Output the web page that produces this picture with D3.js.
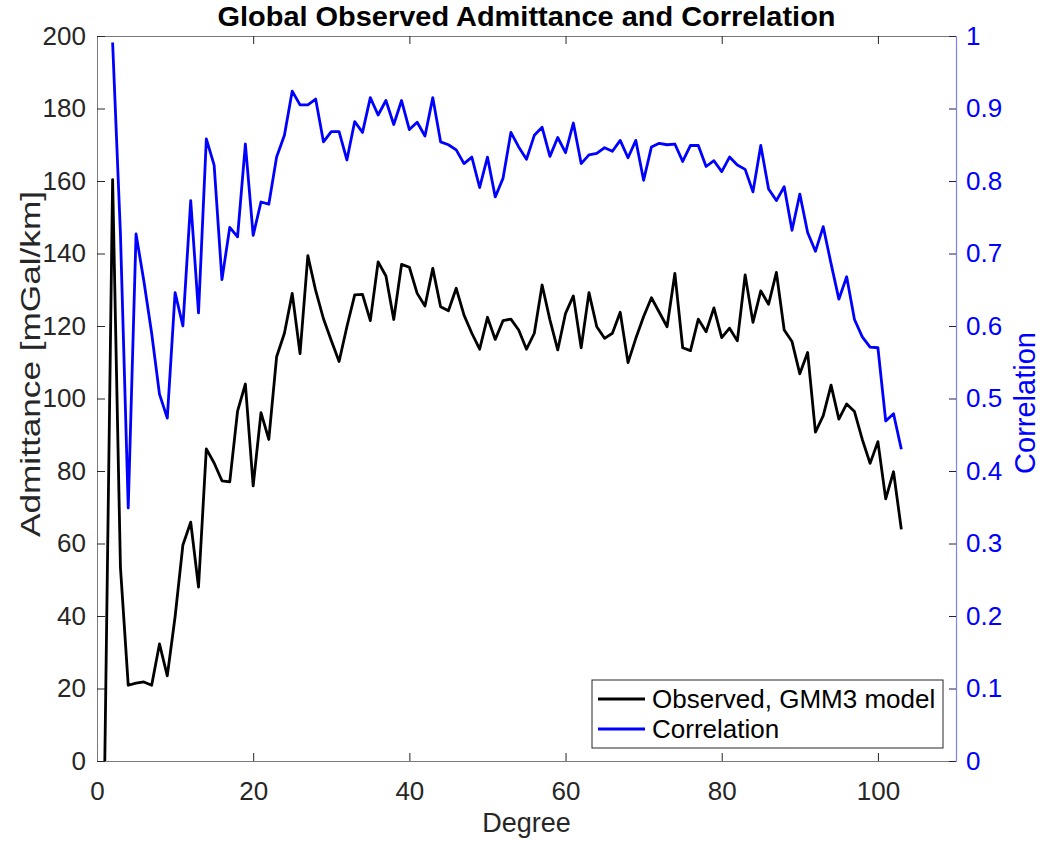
<!DOCTYPE html>
<html>
<head>
<meta charset="utf-8">
<script src="https://cdn.jsdelivr.net/npm/d3@7"></script>
<style>
  body { margin: 0; background: #fff; }
  text { font-family: "Liberation Sans", Arial, Helvetica, sans-serif; }
</style>
</head>
<body>
<svg width="1045" height="841"></svg>
<script>
// data, one value per spherical harmonic degree
var degrees = d3.range(1, 104);

var admittance = [0, 160.4, 53.5, 20.9, 21.5, 21.8, 20.9, 32.3, 23.5, 39.8,
  59.6, 65.9, 48.0, 86.1, 82.2, 77.3, 77.0, 96.5, 104.0, 75.9,
  96.1, 88.7, 111.5, 118.0, 129.0, 112.4, 139.4, 129.8, 122, 116,
  110.2, 119.8, 128.6, 128.7, 121.5, 137.7, 133.8, 121.8, 137.0, 136.2,
  129, 125.5, 135.9, 125.3, 124.2, 130.4, 123, 118, 113.6, 122.4,
  116.3, 121.5, 121.9, 118.9, 113.6, 118, 131.3, 121.7, 113.4, 123.5,
  128.3, 114, 129.2, 119.8, 116.6, 118, 123.8, 109.9, 116.6, 122.6,
  127.8, 123.8, 119.8, 134.5, 114, 113.2, 121.9, 118.4, 125, 116.8,
  119.4, 115.9, 134.1, 121, 129.7, 126, 134.8, 118.9, 115.7, 106.8,
  112.7, 90.7, 95.3, 103.7, 94.3, 98.5, 96.4, 88.7, 82.1, 88.1,
  72.3, 79.8, 63.9];

// no correlation at degree 1
var correlation = [null, 0.991, 0.728, 0.349, 0.727, 0.662, 0.59, 0.506, 0.473, 0.646,
  0.60, 0.773, 0.618, 0.858, 0.822, 0.664, 0.736, 0.723, 0.851, 0.725,
  0.771, 0.768, 0.833, 0.863, 0.924, 0.905, 0.905, 0.913, 0.854, 0.868,
  0.868, 0.829, 0.882, 0.867, 0.915, 0.891, 0.911, 0.878, 0.911, 0.871,
  0.881, 0.862, 0.915, 0.854, 0.850, 0.843, 0.824, 0.833, 0.791, 0.833,
  0.778, 0.804, 0.867, 0.847, 0.830, 0.863, 0.874, 0.834, 0.860, 0.839,
  0.880, 0.824, 0.836, 0.838, 0.846, 0.841, 0.856, 0.832, 0.856, 0.801,
  0.847, 0.852, 0.850, 0.851, 0.827, 0.849, 0.849, 0.820, 0.828, 0.813,
  0.833, 0.822, 0.816, 0.785, 0.849, 0.789, 0.773, 0.792, 0.732, 0.782,
  0.729, 0.703, 0.737, 0.686, 0.637, 0.668, 0.609, 0.585, 0.571, 0.570,
  0.469, 0.479, 0.430];

var xTicks = [0, 20, 40, 60, 80, 100];
var yLeftTicks = d3.range(0, 201, 20);
var yRightTicks = [0, 0.1, 0.2, 0.3, 0.4, 0.5, 0.6, 0.7, 0.8, 0.9, 1];
var legendLabels = ['Observed, GMM3 model', 'Correlation'];

// plot box (not called top/left: window.top is read only)
var boxL = 97, boxR = 956, boxT = 36, boxB = 761;
var axisGrey = '#262626';
var blue = '#0000ff';

var svg = d3.select('svg');

var x = d3.scaleLinear().domain([0, 110]).range([boxL, boxR]);
var yL = d3.scaleLinear().domain([0, 200]).range([boxB, boxT]);
var yR = d3.scaleLinear().domain([0, 1]).range([boxB, boxT]);

// axes, ticks pointing inwards like matlab
var gx = svg.append('g')
    .attr('transform', 'translate(0,' + boxB + ')')
    .call(d3.axisBottom(x).tickValues(xTicks).tickSizeInner(-8).tickSizeOuter(0).tickPadding(21));

var gxTop = svg.append('g')
    .attr('transform', 'translate(0,' + boxT + ')')
    .call(d3.axisTop(x).tickValues(xTicks).tickSizeInner(-8).tickSizeOuter(0).tickFormat(''));

var gyL = svg.append('g')
    .attr('transform', 'translate(' + boxL + ',0)')
    .call(d3.axisLeft(yL).tickValues(yLeftTicks).tickSizeInner(-8).tickSizeOuter(0).tickPadding(11));

var gyR = svg.append('g')
    .attr('transform', 'translate(' + boxR + ',0)')
    .call(d3.axisRight(yR).tickValues(yRightTicks).tickSizeInner(-7).tickSizeOuter(0).tickPadding(10)
      .tickFormat(function(d) { return d3.format('~g')(d); }));

[gx, gxTop, gyL].forEach(function(g) {
  g.select('.domain').attr('stroke', '#7a7a7a').attr('stroke-width', 1);
  g.selectAll('.tick line').attr('stroke', axisGrey);
  g.selectAll('.tick text').attr('fill', axisGrey).style('font-size', '26px');
});

gyR.select('.domain').attr('stroke', '#7f7fff').attr('stroke-width', 1.2);
gyR.selectAll('.tick line').attr('stroke', '#20205a');
gyR.selectAll('.tick text').attr('fill', blue).style('font-size', '26px');

// data lines
var admLine = d3.line()
    .x(function(d, i) { return x(degrees[i]); })
    .y(function(d) { return yL(d); });

var corLine = d3.line()
    .defined(function(d) { return d !== null; })
    .x(function(d, i) { return x(degrees[i]); })
    .y(function(d) { return yR(d); });

svg.append('path')
    .datum(admittance)
    .attr('d', admLine)
    .attr('fill', 'none')
    .attr('stroke', 'black')
    .attr('stroke-width', 2.8)
    .attr('stroke-linejoin', 'round');

svg.append('path')
    .datum(correlation)
    .attr('d', corLine)
    .attr('fill', 'none')
    .attr('stroke', blue)
    .attr('stroke-width', 2.8)
    .attr('stroke-linejoin', 'round');

// title and axis labels
svg.append('text')
    .text('Global Observed Admittance and Correlation')
    .attr('x', (boxL + boxR) / 2)
    .attr('y', 26)
    .attr('text-anchor', 'middle')
    .attr('textLength', 618)
    .attr('lengthAdjust', 'spacingAndGlyphs')
    .style('font-size', '28px')
    .style('font-weight', 'bold')
    .attr('fill', 'black');

svg.append('text')
    .text('Degree')
    .attr('x', (boxL + boxR) / 2)
    .attr('y', 832)
    .attr('text-anchor', 'middle')
    .style('font-size', '27px')
    .attr('fill', axisGrey);

svg.append('text')
    .text('Admittance [mGal/km]')
    .attr('transform', 'translate(40,364) rotate(-90)')
    .attr('text-anchor', 'middle')
    .attr('textLength', 346)
    .attr('lengthAdjust', 'spacingAndGlyphs')
    .style('font-size', '27px')
    .attr('fill', axisGrey);

svg.append('text')
    .text('Correlation')
    .attr('transform', 'translate(1035,403) rotate(-90)')
    .attr('text-anchor', 'middle')
    .style('font-size', '29px')
    .attr('fill', blue);

// legend
var legend = svg.append('g');

legend.append('rect')
    .attr('x', 592)
    .attr('y', 680)
    .attr('width', 351)
    .attr('height', 68)
    .attr('fill', 'white')
    .attr('stroke', axisGrey)
    .attr('stroke-width', 1);

var legendColors = ['black', blue];

legendLabels.forEach(function(label, i) {
  var ly = 699 + i * 30;
  legend.append('line')
      .attr('x1', 598)
      .attr('x2', 645)
      .attr('y1', ly)
      .attr('y2', ly)
      .attr('stroke', legendColors[i])
      .attr('stroke-width', 2.8);
  legend.append('text')
      .text(label)
      .attr('x', 652)
      .attr('y', ly)
      .attr('dy', '0.35em')
      .style('font-size', '26px')
      .attr('fill', 'black');
});
</script>
</body>
</html>
